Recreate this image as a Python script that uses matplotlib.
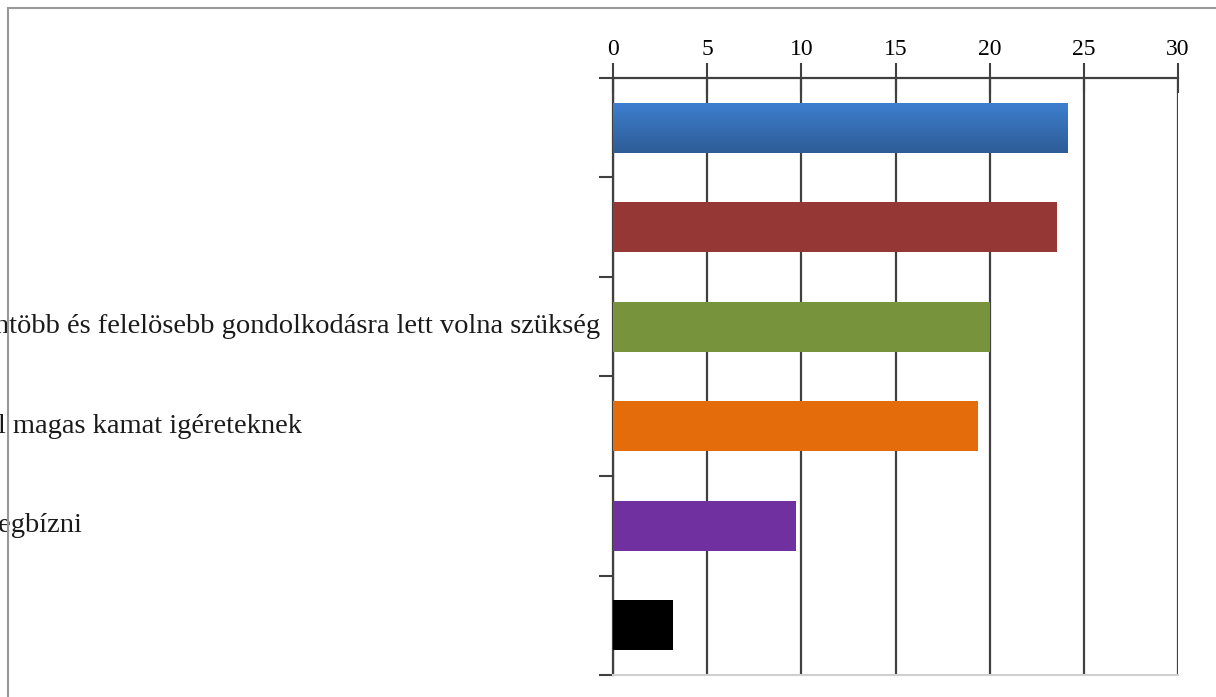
import matplotlib.pyplot as plt
import numpy as np
from matplotlib.patches import Rectangle
from matplotlib.colors import LinearSegmentedColormap

# values (top to bottom)
values = [24.15, 23.6, 20.0, 19.4, 9.7, 3.2]
colors = ["#3a78c4", "#953735", "#77933c", "#e46c0a", "#7030a0", "#000000"]
# category labels (only partly visible in the picture)
labels = ["", "",
          "Körültekintöbb és felelösebb gondolkodásra lett volna szükség",
          "túl magas kamat igéreteknek",
          "megbízni",
          ""]
label_x = [0, 0, 600, -24, -24, 0]   # figure pixels
label_ha = ["right", "right", "right", "left", "left", "right"]
xticks = [0, 5, 10, 15, 20, 25, 30]

plt.rcParams['font.family'] = ['Liberation Serif', 'DejaVu Serif']

fig = plt.figure(figsize=(12.16, 6.97), dpi=100)
ax = fig.add_axes([613 / 1216, 1 - 675 / 697, 565 / 1216, 597 / 697])

pos = np.arange(len(values))
bars = ax.barh(pos, values, height=0.5, color=colors, zorder=3)

# gradient on the first (blue) bar
b = bars[0]
grad = np.linspace(0, 1, 100).reshape(-1, 1)
cmap = LinearSegmentedColormap.from_list("bl", ["#3d7fcf", "#2e5c96"])
x0, y0 = b.get_x(), b.get_y()
ax.imshow(grad, cmap=cmap, aspect='auto', zorder=4,
          extent=[x0, x0 + b.get_width(), y0 + b.get_height(), y0])
b.set_visible(False)

ax.set_xlim(0, 30)
ax.set_ylim(len(values) - 0.5, -0.5)
ax.xaxis.tick_top()
ax.set_xticks(xticks)
ax.set_xticklabels([str(t) for t in xticks], fontsize=17)
ax.tick_params(axis='x', direction='inout', length=22, width=1.5,
               color='#404040', pad=2)
ax.set_yticks(np.arange(len(values) + 1) - 0.5)
ax.set_yticklabels([])
ax.tick_params(axis='y', direction='out', length=10, width=1.5, color='#404040')
ax.grid(axis='x', color='#404040', linewidth=1.6, zorder=1)

ax.spines['top'].set_color('#404040')
ax.spines['top'].set_linewidth(1.6)
ax.spines['left'].set_color('#404040')
ax.spines['left'].set_linewidth(1.6)
ax.spines['right'].set_visible(False)
ax.spines['bottom'].set_color('#d0d0d0')
ax.spines['bottom'].set_linewidth(1.5)

for i, lab in enumerate(labels):
    if lab:
        ax.annotate(lab, xy=(label_x[i], i), xycoords=('figure pixels', 'data'),
                    ha=label_ha[i], va='center', fontsize=20.5, color='#1a1a1a',
                    annotation_clip=False)

# outer frame of the chart area
fig.patches.append(Rectangle((8, -10), 1300, 697 - 8 + 10, transform=None,
                             fill=False, edgecolor='#999999', linewidth=1.5))

fig.savefig("out.png", dpi=100)
